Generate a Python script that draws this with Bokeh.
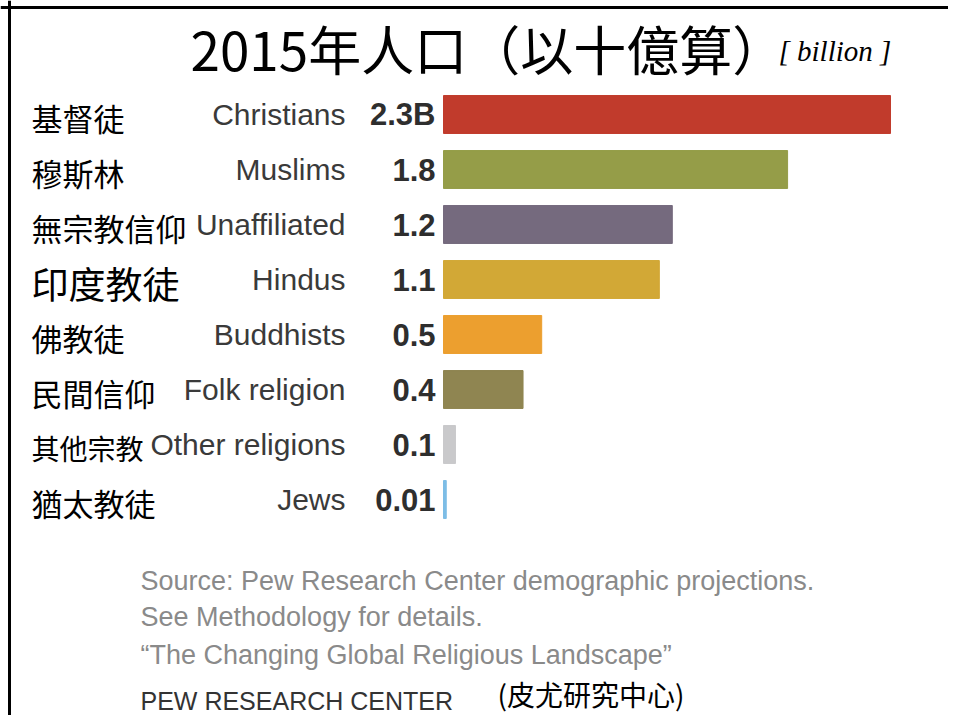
from bokeh.plotting import figure
from bokeh.models import ColumnDataSource, Range1d, Label, Span
from bokeh.core.properties import value
from bokeh.embed import file_html
from bokeh.resources import INLINE

# ---- data ----
zh_labels = ["基督徒", "穆斯林", "無宗教信仰", "印度教徒", "佛教徒", "民間信仰", "其他宗教", "猶太教徒"]
en_labels = ["Christians", "Muslims", "Unaffiliated", "Hindus", "Buddhists", "Folk religion", "Other religions", "Jews"]
populations = [2.276, 1.752, 1.165, 1.099, 0.500, 0.405, 0.061, 0.014]
value_labels = ["2.3B", "1.8", "1.2", "1.1", "0.5", "0.4", "0.1", "0.01"]

# ---- styles ----
bar_colors = ["#c13b2c", "#959d48", "#756a7e", "#d2a836", "#ec9f2f", "#8f8551", "#c9c9cb", "#7dbde6"]
zh_sizes = ["31px", "31px", "31px", "37px", "31px", "31px", "28px", "31px"]

W, H = 948, 715
px_per_unit = 196.4
base_px = 443
row_px = 55
first_row_px = 114

x_start = -base_px / px_per_unit
x_end = (W - base_px) / px_per_unit
y_top = -first_row_px / row_px
y_bottom = y_top + H / row_px

idx = list(range(len(en_labels)))
src = ColumnDataSource(dict(
    y=idx, pop=populations, color=bar_colors, zh=zh_labels, en=en_labels,
    val=value_labels, zh_size=zh_sizes, zero=[0] * len(idx), xs=[x_start] * len(idx),
))

p = figure(width=W, height=H, output_backend="svg", toolbar_location=None,
           x_range=Range1d(x_start, x_end), y_range=Range1d(y_bottom, y_top),
           min_border=0, outline_line_color=None)
p.axis.visible = False
p.grid.visible = False
p.background_fill_color = "white"

p.hbar(y="y", left=0, right="pop", height=0.69, color="color", source=src)

p.text(x="zero", y="y", text="en", source=src, x_offset=-98, text_align="right",
       text_baseline="middle", text_font=value("Liberation Sans"), text_font_size="30px",
       text_color="#3a3a3a")
p.text(x="zero", y="y", text="val", source=src, x_offset=-8, text_align="right",
       text_baseline="middle", text_font=value("Liberation Sans"), text_font_size="31px",
       text_font_style="bold", text_color="#2e2e2e")
p.text(x="xs", y="y", text="zh", source=src, x_offset=31, y_offset=3, text_align="left",
       text_baseline="middle", text_font=value("Noto Sans CJK TC"), text_font_size="zh_size",
       text_color="black")

# frame lines (top and left)
p.add_layout(Span(location=x_start + 9 / px_per_unit, dimension="height",
                  line_color="black", line_width=3))
p.add_layout(Span(location=y_top + 7 / row_px, dimension="width",
                  line_color="black", line_width=3))

# title
p.add_layout(Label(x=190, y=H - 47, x_units="screen", y_units="screen",
                   text="2015年人口（以十億算）", text_font="Noto Sans CJK TC",
                   text_font_size="53px", text_baseline="middle", text_color="black"))
p.add_layout(Label(x=778, y=H - 50, x_units="screen", y_units="screen",
                   text="[ billion ]", text_font="Liberation Serif", text_font_style="italic",
                   text_font_size="29px", text_baseline="middle", text_color="black"))

notes = ["Source: Pew Research Center demographic projections.",
         "See Methodology for details.",
         "\u201cThe Changing Global Religious Landscape\u201d"]
note_y = [580, 616, 654]
for t, yy in zip(notes, note_y):
    p.add_layout(Label(x=140, y=H - yy, x_units="screen", y_units="screen", text=t,
                       text_font="Liberation Sans", text_font_size="27px",
                       text_baseline="middle", text_color="#8a8a8a"))
p.add_layout(Label(x=140, y=H - 700, x_units="screen", y_units="screen",
                   text="PEW RESEARCH CENTER", text_font="Liberation Sans",
                   text_font_size="25px", text_baseline="middle", text_color="#333333"))
p.add_layout(Label(x=497, y=H - 693, x_units="screen", y_units="screen",
                   text="(皮尤研究中心)", text_font="Noto Sans CJK TC",
                   text_font_size="28px", text_baseline="middle", text_color="black"))

open("out.html", "w").write(file_html(p, INLINE))
